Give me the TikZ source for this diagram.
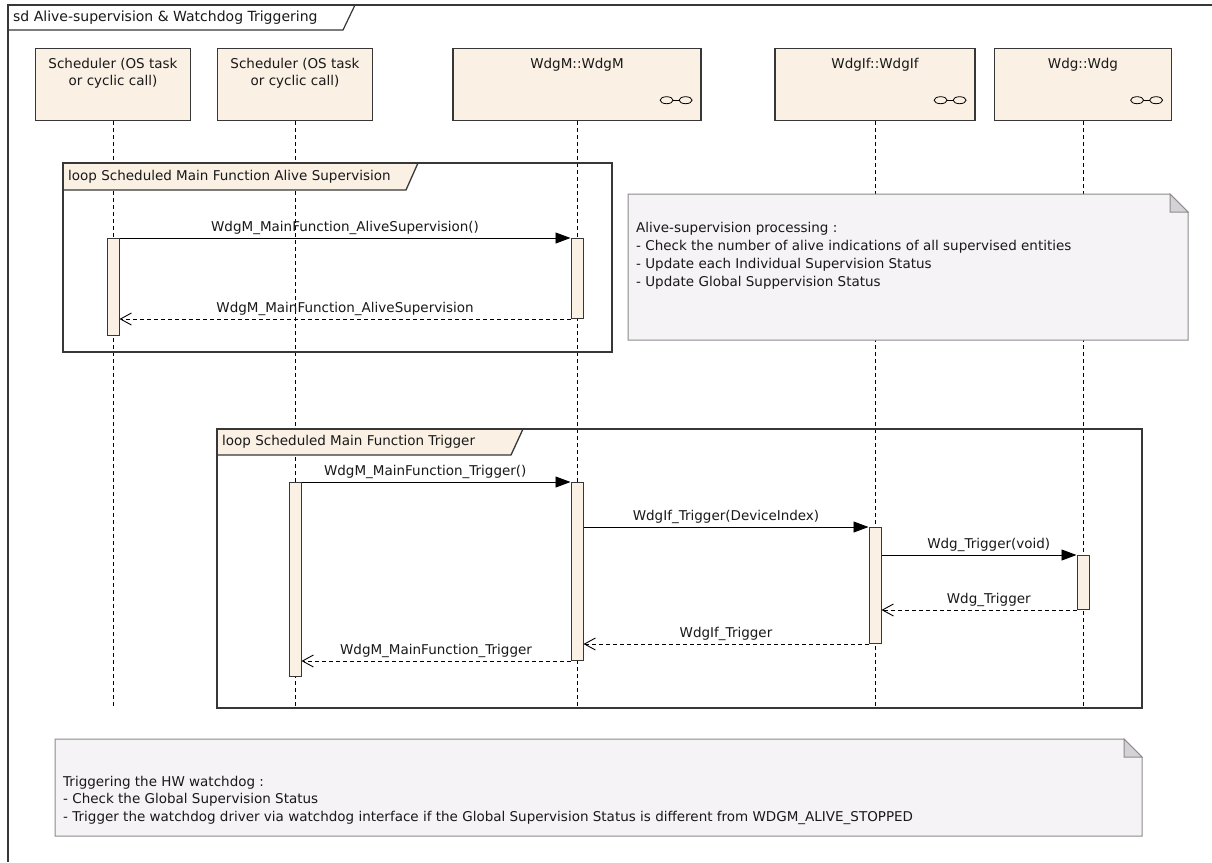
\documentclass[tikz,border=0pt]{standalone}
\usepackage{fontspec}
\setmainfont{DejaVu Sans}
\usetikzlibrary{arrows.meta,calc}

\definecolor{boxfill}{RGB}{250,240,228}
\definecolor{edge}{RGB}{55,55,55}
\definecolor{notefill}{RGB}{245,243,246}
\definecolor{notedge}{RGB}{140,140,140}
\definecolor{notefold}{RGB}{212,210,214}
\definecolor{ink}{RGB}{25,25,25}

\tikzset{
  headbox/.style={draw=edge, line width=1.2pt, fill=boxfill, minimum height=72pt, inner sep=0pt, anchor=north},
  headtext/.style={anchor=north, align=center, inner sep=0pt, text=ink},
  lifeline/.style={draw=black, line width=0.9pt, dash pattern=on 4pt off 3pt},
  actbar/.style={draw=edge, line width=1pt, fill=boxfill, minimum width=12pt, inner sep=0pt, anchor=north},
  frameline/.style={draw=edge, line width=1.6pt},
  looptab/.style={fill=boxfill, draw=edge, line width=1.3pt},
  tabtext/.style={anchor=west, inner sep=0pt, text=ink},
  callmsg/.style={draw=black, line width=0.9pt, -{Triangle[length=15pt,width=11pt]}},
  retmsg/.style={draw=black, line width=0.9pt, dash pattern=on 4pt off 3pt, -{Straight Barb[length=11pt,width=12pt,line width=0.9pt]}},
  msglabel/.style={above, inner sep=3pt, text=ink},
  notebody/.style={fill=notefill, draw=notedge, line width=1pt},
  notefoldst/.style={fill=notefold, draw=notedge, line width=1pt},
  notetext/.style={anchor=north west, align=left, inner sep=0pt, text=ink, font=\fontsize{13.5}{18}\selectfont},
  linksym/.pic={
    \draw[line width=0.8pt] (-30,0) ellipse [x radius=6.5pt, y radius=3.5pt];
    \draw[line width=0.8pt] (-23.5,0) -- (-17.5,0);
    \draw[line width=0.8pt] (-11,0) ellipse [x radius=6.5pt, y radius=3.5pt];
  }
}

\begin{document}
\begin{tikzpicture}[x=1pt, y=-1pt, font=\fontsize{13.5}{17}\selectfont]
\useasboundingbox[fill=white] (0,0) rectangle (1212,862);

% outer sequence-diagram frame and its name tab
\draw[frameline] (1212,5) -- (8,5) -- (8,862);
\draw[draw=edge, line width=1.2pt] (8,30) -- (343,30) -- (355,5);
\node[tabtext, font=\fontsize{14}{17}\selectfont] (title) at (13,18) {sd Alive-supervision \& Watchdog Triggering};

% lifeline heads
\node[headbox, minimum width=155pt] (h1) at (113,48) {};
\node[headbox, minimum width=155pt] (h2) at (295,48) {};
\node[headbox, minimum width=248pt] (h3) at (577,48) {};
\node[headbox, minimum width=200pt] (h4) at (875,48) {};
\node[headbox, minimum width=177pt] (h5) at (1083,48) {};

\node[headtext] (t1) at ([yshift=-10pt]h1.north) {Scheduler (OS task\\or cyclic call)};
\node[headtext] (t2) at ([yshift=-10pt]h2.north) {Scheduler (OS task\\or cyclic call)};
\node[headtext] (t3) at ([yshift=-10pt]h3.north) {WdgM::WdgM};
\node[headtext] (t4) at ([yshift=-10pt]h4.north) {WdgIf::WdgIf};
\node[headtext] (t5) at ([yshift=-10pt]h5.north) {Wdg::Wdg};

\pic at ([xshift=-5pt, yshift=21pt]h3.south east) {linksym};
\pic at ([xshift=-5pt, yshift=21pt]h4.south east) {linksym};
\pic at ([xshift=-5pt, yshift=21pt]h5.south east) {linksym};

% lifelines
\coordinate (bot) at (0,708);
\foreach \h in {h1,h2,h3,h4,h5}
  \draw[lifeline] (\h.south) -- (\h.south |- bot);

% loop fragment: alive supervision
\draw[looptab] (63,163) -- (418,163) -- (406,190) -- (63,190) -- cycle;
\node[tabtext] (loop1) at (68,177) {loop Scheduled Main Function Alive Supervision};
\draw[frameline] (63,163) rectangle (612,352);

% loop fragment: trigger
\draw[looptab] (217,429) -- (523,429) -- (511,455) -- (217,455) -- cycle;
\node[tabtext] (loop2) at (222,442) {loop Scheduled Main Function Trigger};
\draw[frameline] (217,429) rectangle (1142,708);

% activation bars
\node[actbar, minimum height=97pt]  (a1) at (113,238) {};
\node[actbar, minimum height=80pt]  (a3) at (577,238) {};
\node[actbar, minimum height=194pt] (b2) at (295,482) {};
\node[actbar, minimum height=178pt] (b3) at (577,482) {};
\node[actbar, minimum height=116pt] (b4) at (875,527) {};
\node[actbar, minimum height=54pt]  (b5) at (1083,555) {};

% messages
\draw[callmsg] (a1.north east) -- node[msglabel] {WdgM\_MainFunction\_AliveSupervision()} (a3.north west);
\draw[retmsg] (a3.south west) -- node[msglabel] {WdgM\_MainFunction\_AliveSupervision} (a3.south west -| a1.east);

\draw[callmsg] (b2.north east) -- node[msglabel, pos=0.46] {WdgM\_MainFunction\_Trigger()} (b3.north west);
\draw[callmsg] (b3.east |- b4.north) -- node[msglabel] {WdgIf\_Trigger(DeviceIndex)} (b4.north west);
\draw[callmsg] (b4.east |- b5.north) -- node[msglabel, pos=0.55] {Wdg\_Trigger(void)} (b5.north west);
\draw[retmsg] (b5.south west) -- node[msglabel, pos=0.45] {Wdg\_Trigger} (b4.east |- b5.south);
\draw[retmsg] (b4.south west) -- node[msglabel] {WdgIf\_Trigger} (b3.east |- b4.south);
\draw[retmsg] (b3.south west) -- node[msglabel] {WdgM\_MainFunction\_Trigger} (b2.east |- b3.south);

% note: alive-supervision processing
\draw[notebody] (628,194) -- (1170,194) -- (1188,212) -- (1188,340) -- (628,340) -- cycle;
\draw[notefoldst] (1170,194) -- (1170,212) -- (1188,212) -- cycle;
\node[notetext] (note1) at (636,222) {Alive-supervision processing :\\
- Check the number of alive indications of all supervised entities\\
- Update each Individual Supervision Status\\
- Update Global Suppervision Status};

% note: triggering the hardware watchdog
\draw[notebody] (55,739) -- (1124,739) -- (1142,757) -- (1142,836) -- (55,836) -- cycle;
\draw[notefoldst] (1124,739) -- (1124,757) -- (1142,757) -- cycle;
\node[notetext, font=\fontsize{13.5}{17.5}\selectfont] (note2) at (63,776) {Triggering the HW watchdog :\\
- Check the Global Supervision Status\\
- Trigger the watchdog driver via watchdog interface if the Global Supervision Status is different from WDGM\_ALIVE\_STOPPED};
\end{tikzpicture}
\end{document}
